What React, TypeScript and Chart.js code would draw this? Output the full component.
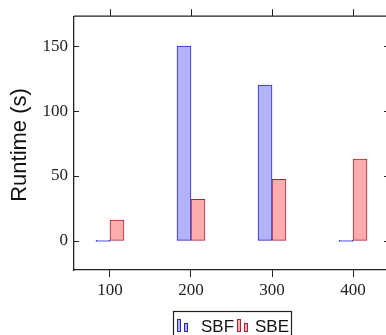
import React, { useEffect, useRef } from "react";
import { Chart, registerables } from "chart.js";

Chart.register(...registerables);

const categories = [100, 200, 300, 400];
const sbfValues = [0, 150, 120, 0];
const sbeValues = [16, 32, 47.5, 63];
const yTicks = [0, 50, 100, 150];
const seriesLabels = ["SBF", "SBE"];
const yTitle = "Runtime (s)";

const AX = "#222";
const SERIF = "Liberation Serif";
const SANS = "Liberation Sans";

const framePlugin = {
  id: "frame",
  afterDraw(chart: any) {
    const { ctx, chartArea } = chart;
    const { left, right, top, bottom } = chartArea;
    const xs = chart.scales.x;
    const ys = chart.scales.y;
    ctx.save();
    ctx.strokeStyle = AX;
    ctx.lineWidth = 1.3;
    ctx.beginPath();
    ctx.moveTo(left, top);
    ctx.lineTo(right, top);
    ctx.lineTo(right, bottom);
    ctx.stroke();
    ctx.lineWidth = 1;
    ctx.beginPath();
    categories.forEach((c) => {
      const px = Math.round(xs.getPixelForValue(c)) + 0.5;
      ctx.moveTo(px, top);
      ctx.lineTo(px, top - 7);
    });
    yTicks.forEach((v) => {
      const py = Math.round(ys.getPixelForValue(v)) + 0.5;
      ctx.moveTo(left, py);
      ctx.lineTo(left + 5, py);
      ctx.moveTo(right, py);
      ctx.lineTo(right - 5, py);
    });
    ctx.stroke();

    // y title
    ctx.save();
    ctx.translate(20, 145);
    ctx.rotate(-Math.PI / 2);
    ctx.font = "22px " + SANS;
    ctx.fillStyle = "#111";
    ctx.textAlign = "center";
    ctx.textBaseline = "middle";
    ctx.fillText(yTitle, 0, 0);
    ctx.restore();

    // legend
    const bx = 173.5, by = 311.5, bw = 118, bh = 30;
    ctx.lineWidth = 1.2;
    ctx.strokeStyle = AX;
    ctx.strokeRect(bx, by, bw, bh);
    const ds = chart.data.datasets;
    const entries = [
      { x: 177, tx: 201 },
      { x: 237, tx: 255 },
    ];
    ctx.font = "17px " + SANS;
    ctx.textBaseline = "alphabetic";
    ctx.textAlign = "left";
    entries.forEach((e, i) => {
      const d = ds[i];
      ctx.fillStyle = d.backgroundColor;
      ctx.strokeStyle = d.borderColor;
      ctx.lineWidth = 1;
      ctx.fillRect(e.x + 0.5, 319.5, 3, 12);
      ctx.strokeRect(e.x + 0.5, 319.5, 3, 12);
      ctx.fillRect(e.x + 7.5, 323.5, 3, 8);
      ctx.strokeRect(e.x + 7.5, 323.5, 3, 8);
      ctx.fillStyle = "#111";
      ctx.fillText(d.label, e.tx, 332);
    });
    ctx.restore();
  },
};

export default function App() {
  const ref = useRef<HTMLCanvasElement | null>(null);
  useEffect(() => {
    document.body.style.margin = "0";
    document.body.style.overflow = "hidden";
    document.documentElement.style.overflow = "hidden";
    const canvas = ref.current;
    if (!canvas) return;
    const chart = new Chart(canvas, {
      type: "bar",
      data: {
        datasets: [
          {
            label: seriesLabels[0],
            data: categories.map((c, i) => ({ x: c, y: sbfValues[i] })),
            backgroundColor: "rgb(178,178,255)",
            borderColor: "rgb(40,40,185)",
            borderWidth: 1,
            borderSkipped: false,
            barThickness: 14,
            minBarLength: 1,
          },
          {
            label: seriesLabels[1],
            data: categories.map((c, i) => ({ x: c, y: sbeValues[i] })),
            backgroundColor: "rgb(255,172,172)",
            borderColor: "rgb(170,35,55)",
            borderWidth: 1,
            borderSkipped: false,
            barThickness: 14,
            minBarLength: 1,
          },
        ] as any,
      },
      options: {
        animation: false,
        responsive: false,
        maintainAspectRatio: false,
        layout: { padding: { left: 0, top: 8, right: 3, bottom: 0 } },
        plugins: {
          legend: { display: false },
          tooltip: { enabled: false },
        },
        scales: {
          x: {
            type: "linear",
            offset: false,
            min: 55.6,
            max: 444.4,
            afterBuildTicks: (s: any) => {
              s.ticks = categories.map((v) => ({ value: v }));
            },
            afterFit: (s: any) => {
              s.height = 65;
            },
            grid: {
              offset: false,
              drawOnChartArea: false,
              drawTicks: true,
              tickLength: 7,
              color: AX,
              lineWidth: 1,
            },
            border: { display: true, color: AX, width: 1.3 },
            ticks: {
              font: { family: SERIF, size: 17 },
              color: "#222",
              padding: 3,
              maxRotation: 0,
              callback: (v: any) => String(v),
            },
          },
          y: {
            type: "linear",
            min: -22.4,
            max: 173.1,
            afterBuildTicks: (s: any) => {
              s.ticks = yTicks.map((v) => ({ value: v }));
            },
            afterFit: (s: any) => {
              s.width = 74;
            },
            grid: { drawOnChartArea: false, drawTicks: false },
            border: { display: true, color: AX, width: 1.3 },
            ticks: {
              font: { family: SERIF, size: 17 },
              color: "#222",
              padding: 6,
              callback: (v: any) => String(v),
            },
          },
        },
      } as any,
      plugins: [framePlugin],
    });
    return () => chart.destroy();
  }, []);
  return (
    <div style={{ width: 392, height: 335 }}>
      <canvas ref={ref} width={392} height={335} style={{ display: "block" }} />
    </div>
  );
}
